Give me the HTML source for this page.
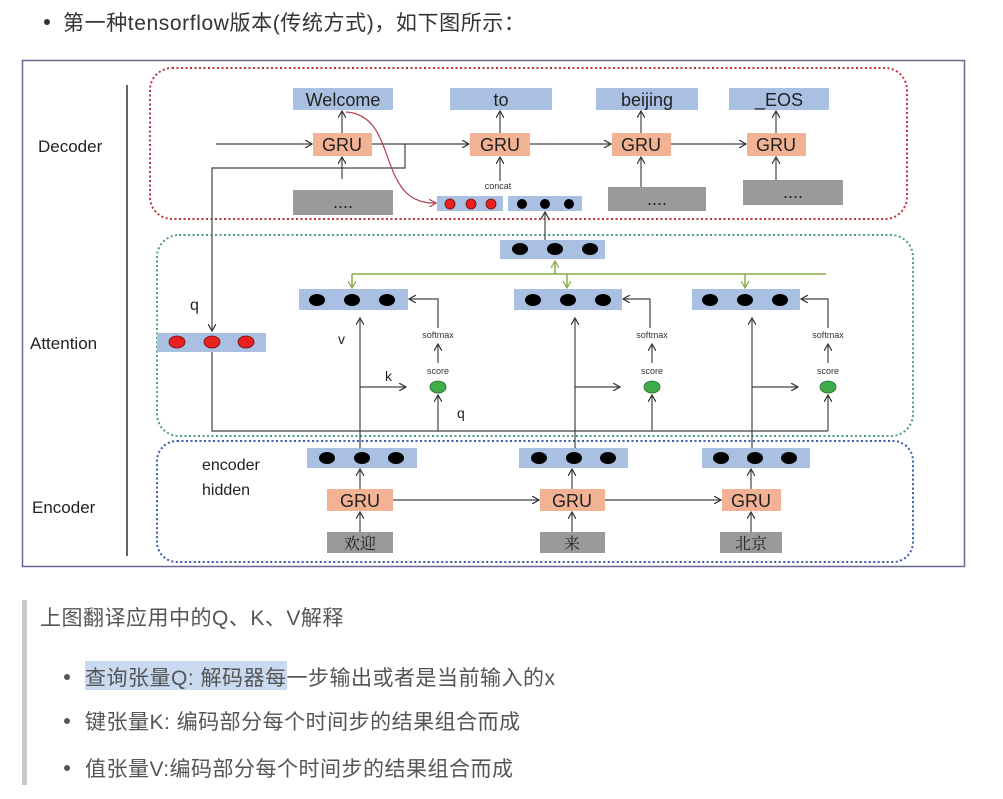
<!DOCTYPE html>
<html><head><meta charset="utf-8"><style>
body{margin:0;width:1003px;height:799px;background:#fff;overflow:hidden;font-family:"Liberation Sans","Noto Sans CJK SC",sans-serif;}
svg{position:absolute;left:0;top:0}
</style></head><body>
<svg width="1003" height="799" viewBox="0 0 1003 799" font-family="Liberation Sans, Noto Sans CJK SC, sans-serif">
<defs>
<marker id="a" markerWidth="8" markerHeight="8" refX="7" refY="4" orient="auto" markerUnits="userSpaceOnUse"><path d="M0,0 L7,4 L0,8" fill="none" stroke="#333" stroke-width="1.2"/></marker>
<marker id="g" markerWidth="8" markerHeight="8" refX="7" refY="4" orient="auto" markerUnits="userSpaceOnUse"><path d="M0,0 L7,4 L0,8" fill="none" stroke="#8aac45" stroke-width="1.2"/></marker>
<marker id="r" markerWidth="8" markerHeight="8" refX="7" refY="4" orient="auto" markerUnits="userSpaceOnUse"><path d="M0,0 L7,4 L0,8" fill="none" stroke="#b04050" stroke-width="1.2"/></marker>
</defs>
<!-- header -->
<circle cx="47" cy="22" r="3" fill="#333"/>
<text x="63" y="30" font-size="21" letter-spacing="0.6" fill="#333">第一种tensorflow版本(传统方式)，如下图所示：</text>
<!-- frame -->
<rect x="22.5" y="60.5" width="942" height="506" fill="none" stroke="#6a6690" stroke-width="1.5"/>
<line x1="127" y1="85" x2="127" y2="556" stroke="#333" stroke-width="1.5"/>
<text x="38" y="152" font-size="17" fill="#222">Decoder</text>
<text x="30" y="349" font-size="17" fill="#222">Attention</text>
<text x="32" y="513" font-size="17" fill="#222">Encoder</text>
<!-- group boxes -->
<rect x="150" y="68" width="757" height="151" rx="22" fill="none" stroke="#c0303a" stroke-width="2" stroke-dasharray="2,2.5"/>
<rect x="157" y="235" width="756" height="201" rx="22" fill="none" stroke="#4aa070" stroke-width="2" stroke-dasharray="2,2.5"/>
<rect x="157" y="441" width="756" height="121" rx="20" fill="none" stroke="#3a5ab0" stroke-width="2" stroke-dasharray="2,2.5"/>
<g font-size="18" fill="#222" text-anchor="middle">
<rect x="293" y="88" width="100" height="22" fill="#a9c0e2"/><text x="343" y="106">Welcome</text>
<rect x="450" y="88" width="102" height="22" fill="#a9c0e2"/><text x="501" y="106">to</text>
<rect x="596" y="88" width="102" height="22" fill="#a9c0e2"/><text x="647" y="106">beijing</text>
<rect x="729" y="88" width="100" height="22" fill="#a9c0e2"/><text x="779" y="106">_EOS</text>
<rect x="313" y="133" width="59" height="23" fill="#f2b394"/><text x="342" y="151">GRU</text>
<rect x="470" y="133" width="60" height="23" fill="#f2b394"/><text x="500" y="151">GRU</text>
<rect x="612" y="133" width="59" height="23" fill="#f2b394"/><text x="641" y="151">GRU</text>
<rect x="747" y="133" width="59" height="23" fill="#f2b394"/><text x="776" y="151">GRU</text>
<rect x="293" y="190" width="100" height="25" fill="#9a9a9a"/><text x="343" y="208">....</text>
<rect x="608" y="187" width="98" height="24" fill="#9a9a9a"/><text x="657" y="205">....</text>
<rect x="743" y="180" width="100" height="25" fill="#9a9a9a"/><text x="793" y="198">....</text>
<rect x="327" y="489" width="66" height="22" fill="#f2b394"/><text x="360" y="507">GRU</text>
<rect x="540" y="489" width="65" height="22" fill="#f2b394"/><text x="572" y="507">GRU</text>
<rect x="722" y="489" width="59" height="22" fill="#f2b394"/><text x="751" y="507">GRU</text>
<rect x="327" y="532" width="66" height="21" fill="#9a9a9a"/><text x="360" y="549" font-family="Liberation Serif, Noto Serif CJK SC, serif" font-size="16">欢迎</text>
<rect x="540" y="532" width="65" height="21" fill="#9a9a9a"/><text x="572" y="549" font-family="Liberation Serif, Noto Serif CJK SC, serif" font-size="16">来</text>
<rect x="720" y="532" width="62" height="21" fill="#9a9a9a"/><text x="751" y="549" font-family="Liberation Serif, Noto Serif CJK SC, serif" font-size="16">北京</text>
</g>
<g fill="#a9c0e2">
<rect x="437" y="196" width="66" height="15"/><rect x="508" y="196" width="74" height="15"/>
<rect x="500" y="240" width="105" height="19"/>
<rect x="299" y="289" width="109" height="21"/><rect x="514" y="289" width="108" height="21"/><rect x="692" y="289" width="108" height="21"/>
<rect x="157" y="333" width="109" height="19"/>
<rect x="307" y="448" width="110" height="20"/><rect x="519" y="448" width="109" height="20"/><rect x="702" y="448" width="108" height="20"/>
</g>
<g fill="#e82020" stroke="#701010" stroke-width="0.8">
<ellipse cx="450" cy="204" rx="5" ry="5"/><ellipse cx="471" cy="204" rx="5" ry="5"/><ellipse cx="491" cy="204" rx="5" ry="5"/>
<ellipse cx="177" cy="342" rx="8" ry="6"/><ellipse cx="212" cy="342" rx="8" ry="6"/><ellipse cx="246" cy="342" rx="8" ry="6"/>
</g>
<g fill="#000">
<ellipse cx="522" cy="204" rx="5" ry="5"/><ellipse cx="545" cy="204" rx="5" ry="5"/><ellipse cx="569" cy="204" rx="5" ry="5"/>
<ellipse cx="520" cy="249" rx="8" ry="6"/><ellipse cx="555" cy="249" rx="8" ry="6"/><ellipse cx="590" cy="249" rx="8" ry="6"/>
<ellipse cx="317" cy="300" rx="8" ry="6"/><ellipse cx="352" cy="300" rx="8" ry="6"/><ellipse cx="387" cy="300" rx="8" ry="6"/>
<ellipse cx="533" cy="300" rx="8" ry="6"/><ellipse cx="568" cy="300" rx="8" ry="6"/><ellipse cx="603" cy="300" rx="8" ry="6"/>
<ellipse cx="710" cy="300" rx="8" ry="6"/><ellipse cx="745" cy="300" rx="8" ry="6"/><ellipse cx="780" cy="300" rx="8" ry="6"/>
<ellipse cx="327" cy="458" rx="8" ry="6"/><ellipse cx="362" cy="458" rx="8" ry="6"/><ellipse cx="396" cy="458" rx="8" ry="6"/>
<ellipse cx="539" cy="458" rx="8" ry="6"/><ellipse cx="574" cy="458" rx="8" ry="6"/><ellipse cx="608" cy="458" rx="8" ry="6"/>
<ellipse cx="721" cy="458" rx="8" ry="6"/><ellipse cx="755" cy="458" rx="8" ry="6"/><ellipse cx="789" cy="458" rx="8" ry="6"/>
</g>
<g fill="#3fae4a" stroke="#226630" stroke-width="0.8">
<ellipse cx="438" cy="387" rx="8" ry="6"/><ellipse cx="652" cy="387" rx="8" ry="6"/><ellipse cx="828" cy="387" rx="8" ry="6"/>
</g>
<g stroke="#444" stroke-width="1.2" fill="none">
<line x1="216" y1="144" x2="312" y2="144" marker-end="url(#a)"/>
<line x1="372" y1="144" x2="469" y2="144" marker-end="url(#a)"/>
<line x1="530" y1="144" x2="611" y2="144" marker-end="url(#a)"/>
<line x1="671" y1="144" x2="746" y2="144" marker-end="url(#a)"/>
<line x1="342" y1="133" x2="342" y2="111" marker-end="url(#a)"/>
<line x1="500" y1="133" x2="500" y2="111" marker-end="url(#a)"/>
<line x1="641" y1="133" x2="641" y2="111" marker-end="url(#a)"/>
<line x1="776" y1="133" x2="776" y2="111" marker-end="url(#a)"/>
<line x1="342" y1="179" x2="342" y2="157" marker-end="url(#a)"/>
<line x1="500" y1="181" x2="500" y2="157" marker-end="url(#a)"/>
<line x1="641" y1="187" x2="641" y2="157" marker-end="url(#a)"/>
<line x1="776" y1="180" x2="776" y2="157" marker-end="url(#a)"/>
<polyline points="405,144 405,168 212,168 212,331" marker-end="url(#a)"/>
<line x1="545" y1="240" x2="545" y2="212" marker-end="url(#a)"/>
<polyline points="212,352 212,431 828,431"/>
<line x1="438" y1="431" x2="438" y2="395" marker-end="url(#a)"/>
<line x1="652" y1="431" x2="652" y2="395" marker-end="url(#a)"/>
<line x1="828" y1="431" x2="828" y2="395" marker-end="url(#a)"/>
<line x1="360" y1="448" x2="360" y2="318" marker-end="url(#a)"/>
<line x1="575" y1="448" x2="575" y2="318" marker-end="url(#a)"/>
<line x1="752" y1="448" x2="752" y2="318" marker-end="url(#a)"/>
<line x1="360" y1="387" x2="406" y2="387" marker-end="url(#a)"/>
<line x1="575" y1="387" x2="620" y2="387" marker-end="url(#a)"/>
<line x1="752" y1="387" x2="798" y2="387" marker-end="url(#a)"/>
<line x1="438" y1="363" x2="438" y2="344" marker-end="url(#a)"/>
<line x1="652" y1="363" x2="652" y2="344" marker-end="url(#a)"/>
<line x1="828" y1="363" x2="828" y2="344" marker-end="url(#a)"/>
<polyline points="438,328 438,299 409,299" marker-end="url(#a)"/>
<polyline points="650,328 650,299 623,299" marker-end="url(#a)"/>
<polyline points="828,328 828,299 801,299" marker-end="url(#a)"/>
<line x1="360" y1="489" x2="360" y2="469" marker-end="url(#a)"/>
<line x1="572" y1="489" x2="572" y2="469" marker-end="url(#a)"/>
<line x1="751" y1="489" x2="751" y2="469" marker-end="url(#a)"/>
<line x1="360" y1="532" x2="360" y2="512" marker-end="url(#a)"/>
<line x1="572" y1="532" x2="572" y2="512" marker-end="url(#a)"/>
<line x1="751" y1="532" x2="751" y2="512" marker-end="url(#a)"/>
<line x1="393" y1="500" x2="539" y2="500" marker-end="url(#a)"/>
<line x1="605" y1="500" x2="721" y2="500" marker-end="url(#a)"/>
</g>
<path d="M346,112 C400,115 375,205 436,203" fill="none" stroke="#b04050" stroke-width="1.2" marker-end="url(#r)"/>
<g stroke="#8aac45" stroke-width="1.5" fill="none">
<line x1="352" y1="274" x2="826" y2="274"/>
<line x1="555" y1="274" x2="555" y2="261" marker-end="url(#g)"/>
<line x1="352" y1="274" x2="352" y2="288" marker-end="url(#g)"/>
<line x1="567" y1="274" x2="567" y2="288" marker-end="url(#g)"/>
<line x1="745" y1="274" x2="745" y2="288" marker-end="url(#g)"/>
</g>
<g fill="#333" font-size="9" text-anchor="middle">
<text x="498" y="189">concat</text>
<text x="438" y="338">softmax</text><text x="652" y="338">softmax</text><text x="828" y="338">softmax</text>
<text x="438" y="374">score</text><text x="652" y="374">score</text><text x="828" y="374">score</text>
</g>
<g fill="#222" font-size="14">
<text x="190" y="310" font-size="16">q</text>
<text x="338" y="344">v</text>
<text x="385" y="381">k</text>
<text x="457" y="418">q</text>
<text x="202" y="470" font-size="16">encoder</text>
<text x="202" y="495" font-size="16">hidden</text>
</g>
<rect x="22" y="600" width="5" height="185" fill="#c8c8c8"/>
<text x="40" y="625" font-size="21" letter-spacing="0.5" fill="#555">上图翻译应用中的Q、K、V解释</text>
<rect x="85" y="661" width="202" height="29" fill="#c9d9f0"/>
<g fill="#555" font-size="21" letter-spacing="0.5">
<circle cx="67" cy="677" r="3"/><text x="85" y="685">查询张量Q: 解码器每一步输出或者是当前输入的x</text>
<circle cx="67" cy="721" r="3"/><text x="85" y="729">键张量K: 编码部分每个时间步的结果组合而成</text>
<circle cx="67" cy="768" r="3"/><text x="85" y="776">值张量V:编码部分每个时间步的结果组合而成</text>
</g>
</svg>
</body></html>
